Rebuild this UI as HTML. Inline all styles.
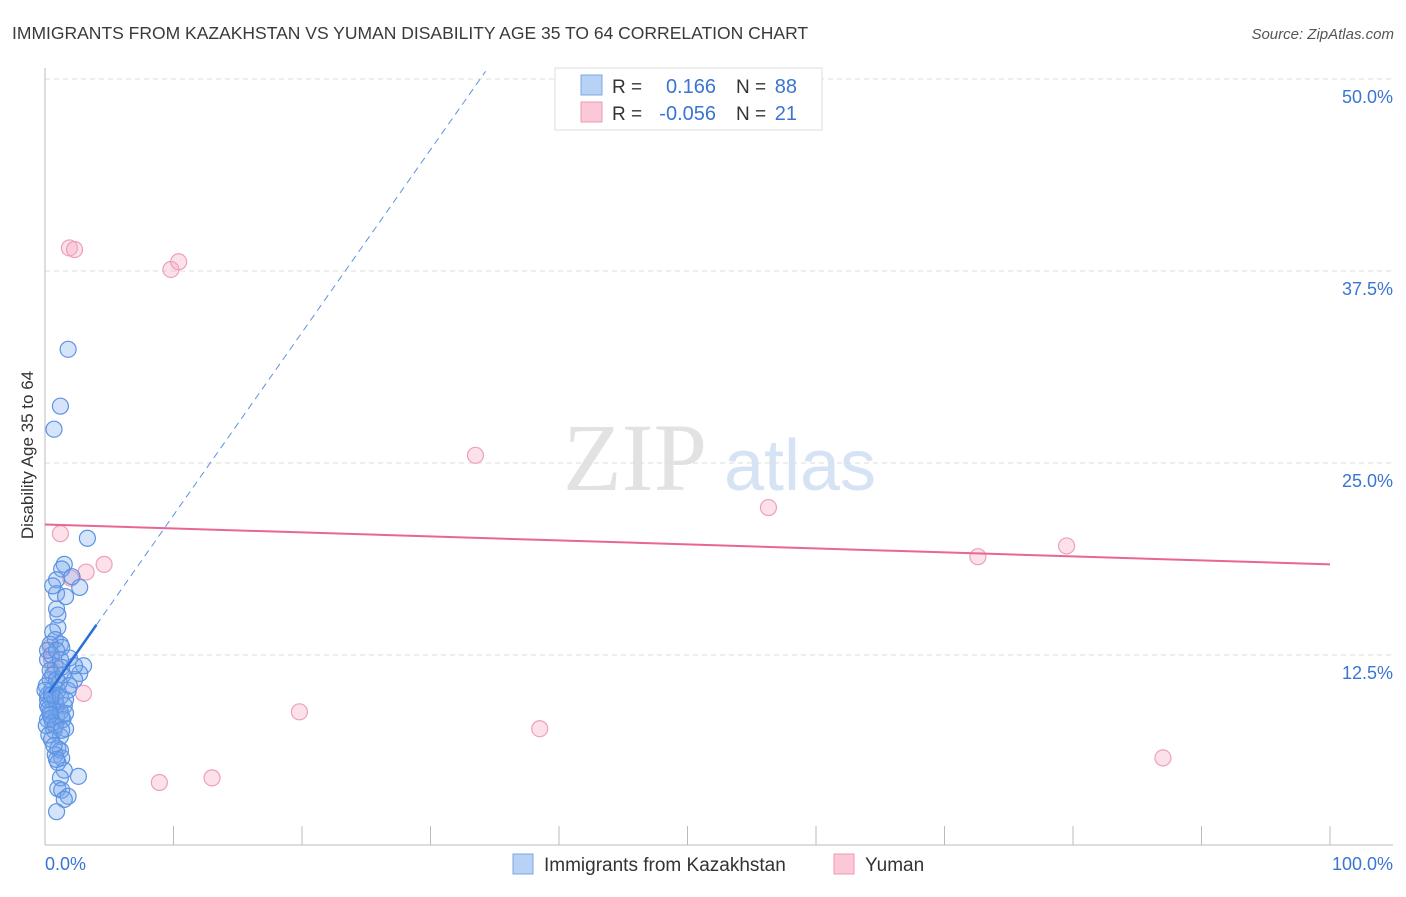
<!DOCTYPE html>
<html><head><meta charset="utf-8"><style>
body{margin:0;background:#fff;font-family:"Liberation Sans",sans-serif}
</style></head><body>
<svg id="c" width="1406" height="892" xmlns="http://www.w3.org/2000/svg">
<text x="12" y="39" font-size="17.5" fill="#3a3a3a">IMMIGRANTS FROM KAZAKHSTAN VS YUMAN DISABILITY AGE 35 TO 64 CORRELATION CHART</text>
<text x="1394" y="39" font-size="15" fill="#555" font-style="italic" text-anchor="end">Source: ZipAtlas.com</text>
<text transform="translate(33,455) rotate(-90)" font-size="17" fill="#333" text-anchor="middle">Disability Age 35 to 64</text>
<g><text x="635" y="490" font-size="96" font-family="Liberation Serif,serif" fill="#e2e2e2" text-anchor="middle">ZIP</text><text x="800" y="490" font-size="72" fill="#d5e3f5" text-anchor="middle">atlas</text></g>
<g id="grid"></g><g id="axes"></g><g id="marks"></g>
<g>
<rect x="555" y="68" width="267" height="62" fill="#fff" stroke="#ddd"/>
<rect x="581" y="75" width="21" height="20" fill="#b8d2f5" stroke="#7aa7e6"/>
<rect x="581" y="102" width="21" height="20" fill="#fac8d6" stroke="#ee9ab3"/>
<text x="612" y="93" font-size="19" fill="#333">R =</text><text x="716" y="93" font-size="20" fill="#3a74d4" text-anchor="end">0.166</text>
<text x="736" y="93" font-size="19" fill="#333">N =</text><text x="797" y="93" font-size="20" fill="#3a74d4" text-anchor="end">88</text>
<text x="612" y="120" font-size="19" fill="#333">R =</text><text x="716" y="120" font-size="20" fill="#3a74d4" text-anchor="end">-0.056</text>
<text x="736" y="120" font-size="19" fill="#333">N =</text><text x="797" y="120" font-size="20" fill="#3a74d4" text-anchor="end">21</text>
</g>
<g>
<rect x="513" y="854" width="20" height="20" fill="#b8d2f5" stroke="#7aa7e6"/><text x="544" y="871" font-size="19" fill="#333">Immigrants from Kazakhstan</text>
<rect x="834" y="854" width="20" height="20" fill="#fac8d6" stroke="#ee9ab3"/><text x="865" y="871" font-size="19" fill="#333">Yuman</text>
</g>
</svg>
<script>
const yTicks=[12.5,25,37.5,50];
const yTickLabels=["12.5%","25.0%","37.5%","50.0%"];
const blueX=[1.8,1.2,0.7,3.3,1.5,1.3,0.9,2.1,2.7,0.9,1.6,0.9,1.0,0.6,0.8,1.2,1.3,0.4,1.9,3.0,2.7,2.3,0.8,0.4,0.5,1.0,1.8,0.2,0.5,0.9,1.5,0.4,0.9,1.3,0.2,1.6,0.7,1.2,0.5,1.0,1.2,0.8,1.3,1.0,1.5,2.6,1.2,1.0,1.3,1.8,1.5,0.9,0.2,0.4,0.6,0.1,0.2,0.3,0.5,0.6,0.1,1.2,1.4,1.6,0.8,1.1,0.5,0.2,0.9,1.2,0.2,0.4,0.8,1.3,0.0,0.5,0.9,1.2,1.6,0.3,0.7,0.9,1.4,1.9,2.3,0.6,1.0,1.3];
const blueY=[32.4,28.7,27.2,20.1,18.4,18.1,17.4,17.6,16.9,16.5,16.3,15.5,14.3,14.0,13.5,13.2,13.0,13.2,12.3,11.8,11.3,10.9,11.7,10.9,10.2,10.2,10.2,9.9,9.6,9.2,9.2,8.8,8.5,8.5,8.3,7.7,7.6,7.2,7.0,6.4,6.3,6.0,5.8,5.5,5.0,4.6,4.5,3.8,3.7,3.3,3.1,2.3,12.2,11.5,11.2,10.5,9.2,9.0,8.4,8.1,7.9,8.8,8.3,8.7,9.6,10.7,12.5,12.8,12.8,12.2,9.6,8.6,7.9,7.6,10.2,9.9,10.9,9.8,9.6,7.3,6.6,5.7,11.2,10.5,11.8,17.0,15.1,11.7];
const pinkX=[1.9,2.3,9.8,10.4,33.5,56.3,72.6,79.5,87.0,38.5,19.8,13.0,8.9,4.6,3.2,1.2,3.0,0.5,0.4,0.8,2.0];
const pinkY=[39.0,38.9,37.6,38.1,25.5,22.1,18.9,19.6,5.8,7.7,8.8,4.5,4.2,18.4,17.9,20.4,10.0,12.2,13.0,11.4,17.5];
const blueTrend=[9.7,1.19];   // intercept, slope
const pinkTrend=[21.0,-0.026];
const X0=45,X1=1330,Y0=847,YS=15.36;
const sx=v=>X0+v*(X1-X0)/100, sy=v=>Y0-v*YS;
const NS="http://www.w3.org/2000/svg";
function mk(t,a,p){const e=document.createElementNS(NS,t);for(const k in a)e.setAttribute(k,a[k]);p.appendChild(e);return e;}
const grid=document.getElementById('grid'),axes=document.getElementById('axes'),marks=document.getElementById('marks');
yTicks.forEach((t,i)=>{
 const l=mk('line',{x1:X0,x2:1393,y1:sy(t),y2:sy(t),stroke:'#ddd','stroke-dasharray':'5,4'},grid);
 
 
 const tx=mk('text',{x:1393,y:sy(t)+24,'font-size':18,fill:'#3a74d4','text-anchor':'end'},axes);
 tx.textContent=yTickLabels[i];
 
 
});
const ya=mk('line',{x1:X0,x2:X0,y1:68,y2:845,stroke:'#bbb'},axes);


const xa=mk('line',{x1:X0,x2:1393,y1:845,y2:845,stroke:'#bbb'},axes);


for(let i=1;i<=10;i++){const tk=mk('line',{x1:sx(i*10),x2:sx(i*10),y1:826,y2:845,stroke:'#bbb'},axes);
 
 }
const xl0=mk('text',{x:45,y:870,'font-size':18,fill:'#3a74d4'},axes);xl0.textContent='0.0%';


const xl1=mk('text',{x:1393,y:870,'font-size':18,fill:'#3a74d4','text-anchor':'end'},axes);xl1.textContent='100.0%';


pinkX.forEach((x,i)=>{const c=mk('circle',{cx:sx(x),cy:sy(pinkY[i]),r:8,fill:'rgba(246,170,195,0.35)',stroke:'#eea0b8','stroke-width':1.2},marks);
 
 });
blueX.forEach((x,i)=>{const c=mk('circle',{cx:sx(x),cy:sy(blueY[i]),r:8,fill:'rgba(120,165,235,0.3)',stroke:'#5b93e3','stroke-width':1.2},marks);
 
 });
const pl=mk('line',{x1:sx(0),y1:sy(pinkTrend[0]),x2:sx(100),y2:sy(pinkTrend[0]+pinkTrend[1]*100),stroke:'#e8668f','stroke-width':2},marks);


const xEnd=(50.5-blueTrend[0])/blueTrend[1];
const bd=mk('line',{x1:sx(4),y1:sy(blueTrend[0]+blueTrend[1]*4),x2:sx(xEnd),y2:sy(50.5),stroke:'#5b93e3','stroke-width':1,'stroke-dasharray':'7,5'},marks);


const bs=mk('line',{x1:sx(0.3),y1:sy(blueTrend[0]+blueTrend[1]*0.3),x2:sx(4),y2:sy(blueTrend[0]+blueTrend[1]*4),stroke:'#2a6fd6','stroke-width':2.5},marks);


</script>
</body></html>
